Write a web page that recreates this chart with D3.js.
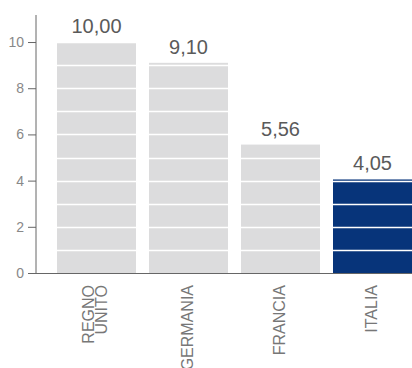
<!DOCTYPE html>
<html lang="it">
<head>
<meta charset="UTF-8">
<title>Chart</title>
<script src="https://d3js.org/d3.v7.min.js"></script>
<style>
  body { margin: 0; background: #fff; }
  svg text { font-family: "Liberation Sans", Arial, sans-serif; }
</style>
</head>
<body>
<svg width="412" height="368" id="mainsvg"></svg>
<script>
const countries = ["REGNO UNITO", "GERMANIA", "FRANCIA", "ITALIA"];
const values = [10.00, 9.10, 5.56, 4.05];
const yTicks = [0, 2, 4, 6, 8, 10];
const highlight = "ITALIA";

const svg = d3.select("#mainsvg");
const margin = {top: 15, right: 0, bottom: 95, left: 36};
const width = +svg.attr("width"), height = +svg.attr("height");
const innerWidth = width - margin.left - margin.right;
const innerHeight = height - margin.top - margin.bottom;
const g = svg.append("g").attr("transform", `translate(${margin.left}, ${margin.top})`);

const x = d3.scaleBand().domain(countries).range([21, innerWidth]).paddingInner(13 / 92).paddingOuter(0);
const y = d3.scaleLinear().domain([0, 11.17]).range([innerHeight, 0]);

const data = countries.map((c, i) => ({c, v: values[i]}));

g.selectAll(".bar").data(data).join("rect")
  .attr("class", "bar")
  .attr("x", d => x(d.c))
  .attr("width", x.bandwidth())
  .attr("y", d => y(d.v))
  .attr("height", d => y(0) - y(d.v))
  .attr("fill", d => d.c === highlight ? "#07347a" : "#dcdcdd");

// white lines across bars every unit
const grid = d3.range(1, 11);
g.selectAll(".grid").data(grid).join("line")
  .attr("class", "grid")
  .attr("x1", 0).attr("x2", innerWidth)
  .attr("y1", d => Math.round(y(d)) + 0.5).attr("y2", d => Math.round(y(d)) + 0.5)
  .attr("stroke", "#fff").attr("stroke-width", 1.5);

g.selectAll(".val").data(data).join("text")
  .attr("class", "val")
  .attr("x", d => x(d.c) + x.bandwidth() / 2)
  .attr("y", d => y(d.v) - 9)
  .attr("text-anchor", "middle")
  .attr("font-size", 20)
  .attr("fill", "#5a5a5a")
  .text(d => d3.format(".2f")(d.v).replace(".", ","));

const yAxis = d3.axisLeft(y).tickValues(yTicks).tickSize(8).tickPadding(4).tickFormat(d => d);
const ya = g.append("g").call(yAxis);
ya.select(".domain").attr("stroke", "#666").attr("d", `M0,0V${innerHeight}`);
ya.selectAll(".tick line").attr("stroke", "#666");
ya.selectAll(".tick text").attr("fill", "#888").attr("font-size", 14).style("font-family", "Liberation Sans, Arial, sans-serif");

g.append("line").attr("x1", 0).attr("x2", innerWidth).attr("y1", innerHeight + 0.5).attr("y2", innerHeight + 0.5)
  .attr("stroke", "#666").attr("stroke-width", 1);

// category labels, one text per line, rotated
const lh = 12.5;
const lines = [];
countries.forEach(c => {
  const words = c.split(" ");
  words.forEach((w, i) => lines.push({c, w, dx: (i - (words.length - 1) / 2) * lh}));
});
g.selectAll(".lab").data(lines).join("text")
  .attr("class", "lab")
  .attr("transform", d => `translate(${x(d.c) + x.bandwidth() / 2 + d.dx + 4}, ${innerHeight + 12}) rotate(-90)`)
  .attr("text-anchor", "end")
  .attr("font-size", 16)
  .attr("fill", "#777")
  .text(d => d.w);
</script>
</body>
</html>
